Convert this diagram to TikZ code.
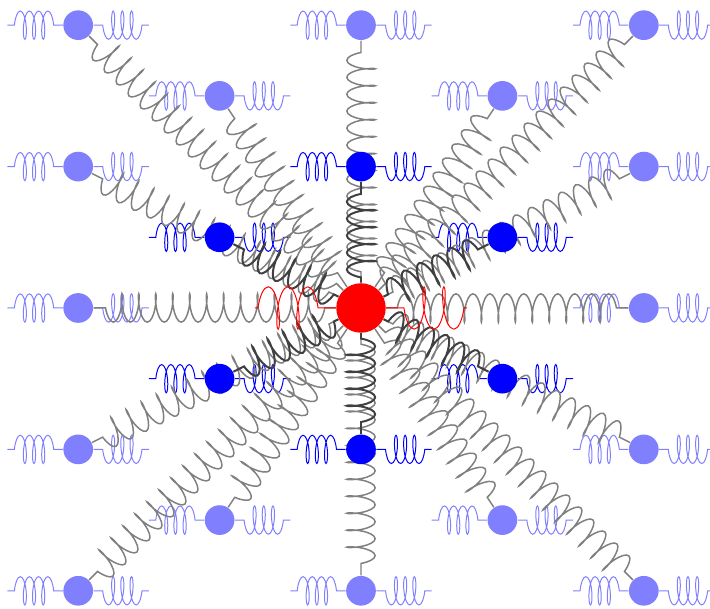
\documentclass[tikz,border=0pt]{standalone}
\usetikzlibrary{decorations.pathmorphing,backgrounds}

\begin{document}
\begin{tikzpicture}[
	ball/.style={circle,inner sep=0pt,minimum size=0.42cm},
	coilspring/.style={decorate,decoration={coil,mirror,aspect=0.25,amplitude=0.2cm,segment length=0.24cm,pre length=0.17cm}},
	sidespring/.style={decorate,decoration={coil,mirror,aspect=0.25,amplitude=0.2cm,segment length=0.13cm,pre length=0.13cm}},
	redspring/.style={decorate,decoration={coil,mirror,aspect=0.25,amplitude=0.3cm,segment length=0.28cm,pre length=0.25cm}}
	]
	\useasboundingbox (-5.106,-4.257) rectangle (4.936,4.356);

	\node[ball,fill=red,minimum size=0.7cm] (m) at (0,0) {};
	\coordinate (ml) at (-1.5,0);
	\coordinate (mr) at (1.5,0);

	% inner ring
	\foreach \p [count=\k] in {(0,2),(-2,1),(2,1),(-2,-1),(2,-1),(0,-2)}
		\node[ball,fill=blue] (i\k) at \p {};

	% outer ring
	\foreach \p [count=\k] in {(-4,4),(0,4),(4,4),(-2,3),(2,3),(-4,2),(4,2),(-4,0),
			(4,0),(-4,-2),(4,-2),(-2,-3),(2,-3),(-4,-4),(0,-4),(4,-4)}
		\node[ball,fill=blue!50] (o\k) at \p {};

	\begin{pgfonlayer}{background}
		% springs to the neighbours
		\foreach \k in {1,...,6} {
			\coordinate (il\k) at ([xshift=-1cm]i\k.center);
			\coordinate (ir\k) at ([xshift=1cm]i\k.center);
			\draw[blue,thin,sidespring] (i\k) -- (il\k);
			\draw[blue,thin,sidespring] (i\k) -- (ir\k);
		}
		\foreach \k in {1,...,16} {
			\coordinate (ol\k) at ([xshift=-1cm]o\k.center);
			\coordinate (or\k) at ([xshift=1cm]o\k.center);
			\draw[blue!50,thin,sidespring] (o\k) -- (ol\k);
			\draw[blue!50,thin,sidespring] (o\k) -- (or\k);
		}

		% springs to the centre
		\foreach \k in {1,...,16}
			\draw[black!50,semithick,coilspring] (o\k) -- (m);
		\foreach \k in {1,...,6}
			\draw[black!75,thick,coilspring] (i\k) -- (m);

		\draw[red,thin,redspring] (m) -- (ml);
		\draw[red,thin,redspring] (m) -- (mr);
	\end{pgfonlayer}
\end{tikzpicture}
\end{document}
